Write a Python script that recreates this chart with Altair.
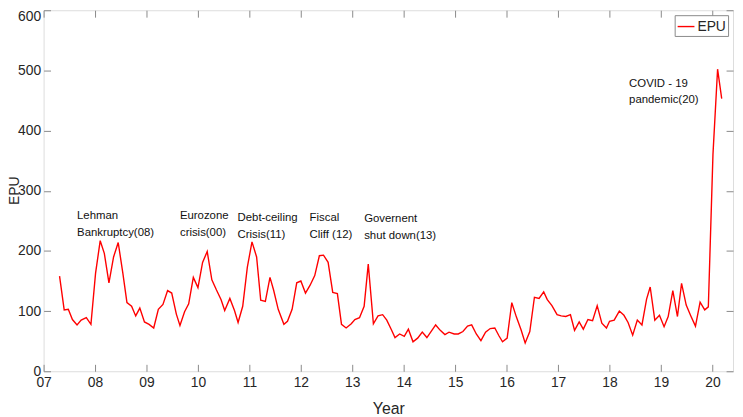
import altair as alt
import pandas as pd

# ---- data ----
years = [7.31, 7.40, 7.48, 7.56, 7.65, 7.73, 7.83, 7.92, 8.01, 8.10, 8.18, 8.27, 8.36, 8.45, 8.54, 8.62,
         8.71, 8.79, 8.87, 8.96, 9.05, 9.14, 9.23,
         9.32, 9.41, 9.49, 9.58, 9.65, 9.74, 9.82, 9.91, 10.0, 10.09, 10.18, 10.27, 10.36, 10.45, 10.52,
         10.62, 10.71, 10.78, 10.87, 10.96, 11.05, 11.14, 11.22, 11.31, 11.40,
         11.47, 11.56, 11.67, 11.74, 11.83, 11.92, 12.0, 12.09, 12.18, 12.27, 12.36, 12.44, 12.53, 12.62,
         12.71, 12.79, 12.88, 12.98, 13.05, 13.14, 13.23, 13.31, 13.41, 13.5, 13.59,
         13.67, 13.76, 13.83, 13.92, 14.01, 14.09, 14.18, 14.27, 14.36, 14.45, 14.54, 14.62, 14.71, 14.80,
         14.88, 14.98, 15.06, 15.15, 15.24, 15.32, 15.41, 15.50, 15.59, 15.68, 15.77,
         15.85, 15.92, 16.01, 16.10, 16.19, 16.28, 16.36, 16.45, 16.54, 16.63, 16.72, 16.79, 16.88, 16.98,
         17.06, 17.15, 17.24, 17.32, 17.41, 17.49, 17.58, 17.67, 17.76, 17.85, 17.94, 18.0,
         18.09, 18.19, 18.28, 18.36, 18.45, 18.54, 18.63, 18.72, 18.79, 18.88, 18.97, 19.06, 19.14, 19.23,
         19.32, 19.40, 19.49, 19.58, 19.67, 19.76, 19.85, 19.92, 20.01, 20.10, 20.18]

epu = [158, 102, 103, 86, 77, 85, 89, 78, 163, 217, 196, 147, 190, 214, 163, 114,
       108, 92, 105, 82, 78, 72, 103,
       111, 134, 130, 95, 76, 99, 112, 156, 139, 181, 199, 152, 135, 119, 101,
       121, 101, 81, 108, 173, 215, 190, 118, 116, 156,
       135, 103, 78, 83, 103, 147, 150, 130, 143, 159, 192, 193, 181, 131,
       129, 78, 72, 79, 86, 89, 108, 178, 79, 92, 94,
       85, 69, 56, 62, 58, 70, 49, 55, 65, 56, 67, 77, 68, 61,
       65, 62, 62, 66, 75, 77, 62, 51, 65, 71, 72,
       59, 49, 55, 114, 90, 69, 47, 66, 123, 121, 132, 119, 109, 94,
       92, 91, 94, 68, 82, 70, 86, 84, 109, 80, 72, 83,
       85, 100, 93, 81, 60, 85, 77, 120, 140, 85, 93, 74, 91, 134,
       91, 146, 110, 92, 75, 115, 102, 107, 360, 502, 453]

series_name = "EPU"

ann_x = [7.65, 9.65, 10.77, 12.17, 13.23, 18.38]
ann_y = [258, 258, 255, 255, 253, 478]
ann_text = ["Lehman\nBankruptcy(08)", "Eurozone\ncrisis(00)", "Debt-ceiling\nCrisis(11)",
            "Fiscal\nCliff (12)", "Governent\nshut down(13)", "COVID - 19\npandemic(20)"]

x_ticks = list(range(7, 21))
y_ticks = list(range(0, 601, 100))

df = pd.DataFrame({"year": years, "epu": epu, "series": series_name})
ann = pd.DataFrame({"x": ann_x, "y": ann_y, "text": ann_text})

FONT = "Liberation Sans"
AX = "#8a8a8a"
TXT = "#262626"

xscale = alt.Scale(domain=[7, 20.4], nice=False, zero=False)
yscale = alt.Scale(domain=[0, 600], nice=False)

common = dict(domain=False, grid=False, tickColor=AX, tickSize=7, offset=-7, tickWidth=1,
              labelFlush=False, labelOverlap=False)

line = alt.Chart(df).mark_line(strokeWidth=1.4, clip=True).encode(
    x=alt.X("year:Q", scale=xscale,
            axis=alt.Axis(values=x_ticks,
                          labelExpr="datum.value < 10 ? '0' + datum.value : '' + datum.value",
                          title="Year", labelFontSize=14, titleFontSize=16, labelPadding=4,
                          titlePadding=12, labelColor=TXT, titleColor=TXT, titleFontWeight="normal",
                          labelFont=FONT, titleFont=FONT, **common)),
    y=alt.Y("epu:Q", scale=yscale,
            axis=alt.Axis(values=y_ticks, title="EPU", labelFontSize=14, titleFontSize=14,
                          labelPadding=3,
                          labelOffset=alt.condition("datum.value == 600", alt.value(6), alt.value(0)),
                          titleX=-36, titleY=182, titleAngle=270, titleBaseline="middle",
                          titleAlign="center",
                          labelColor=TXT, titleColor=TXT,
                          titleFontWeight="normal", labelFont=FONT, titleFont=FONT, **common)),
    color=alt.Color("series:N", scale=alt.Scale(domain=[series_name], range=["#ff0000"]),
                    legend=alt.Legend(title=None, orient="top-right", offset=5, fillColor="white",
                                      strokeColor=AX, padding=2, labelFontSize=14, labelFont=FONT,
                                      labelColor=TXT, symbolType="stroke", symbolSize=289,
                                      symbolStrokeWidth=1.4, labelOffset=2)),
)

frame = alt.Chart(df).mark_line(strokeOpacity=0).encode(
    x=alt.X("year:Q", scale=xscale,
            axis=alt.Axis(orient="top", values=x_ticks, labels=False, title=None, **common)),
    y=alt.Y("epu:Q", scale=yscale,
            axis=alt.Axis(orient="right", values=y_ticks, labels=False, title=None, **common)),
)

text = alt.Chart(ann).mark_text(align="left", baseline="middle", lineBreak="\n", font=FONT,
                                fontSize=11.5, lineHeight=17, color="#111111").encode(
    x=alt.X("x:Q", scale=xscale, axis=None),
    y=alt.Y("y:Q", scale=yscale, axis=None),
    text="text:N",
)

chart = alt.layer(line, frame, text).resolve_axis(x="independent", y="independent").properties(
    width=697, height=365,
    autosize=alt.AutoSizeParams(type="none"),
    padding={"left": 36, "top": 0, "right": 2, "bottom": 46},
).configure_view(stroke=AX, strokeWidth=1).configure(font=FONT)

chart.save("out.html", embed_options={"renderer": "svg", "actions": False})
